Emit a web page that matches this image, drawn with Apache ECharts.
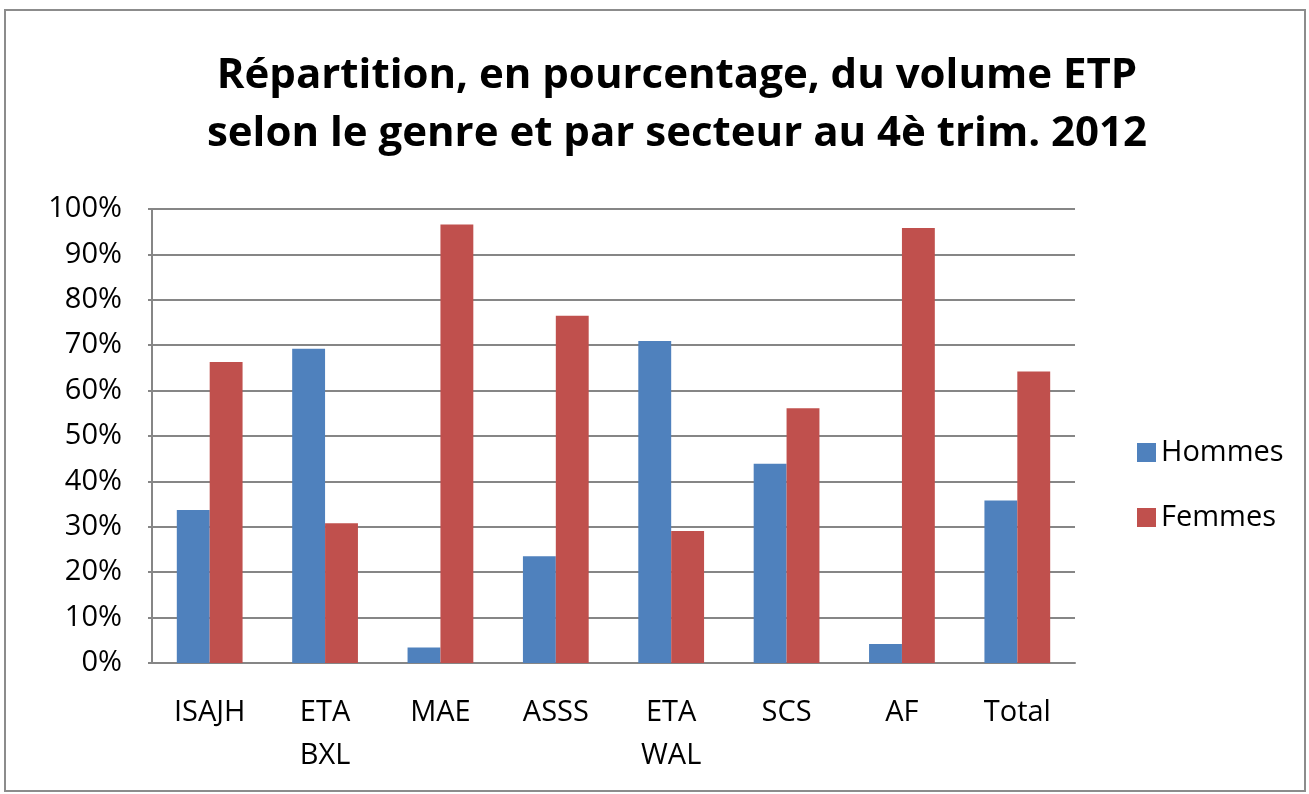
<!DOCTYPE html>
<html lang="fr">
<head>
<meta charset="UTF-8">
<title>Répartition ETP</title>
<style>
    html, body { margin: 0; padding: 0; background: #ffffff; }
    #main { width: 1309px; height: 794px; }
</style>
</head>
<body>
<div id="main"></div>
<script src="https://cdn.jsdelivr.net/npm/echarts@6/dist/echarts.min.js"></script>
<script>
    // secteurs
    var categories = ['ISAJH', 'ETA\nBXL', 'MAE', 'ASSS', 'ETA\nWAL', 'SCS', 'AF', 'Total'];
    // pourcentages
    var hommes = [33.7, 69.2, 3.4, 23.5, 70.9, 43.9, 4.2, 35.8];
    var femmes = [66.3, 30.8, 96.6, 76.5, 29.1, 56.1, 95.8, 64.2];
    var yTicks = [0, 10, 20, 30, 40, 50, 60, 70, 80, 90, 100];

    var font = '"Open Sans", "Liberation Sans", sans-serif';
    var myChart = echarts.init(document.getElementById('main'));
    var option = {
        backgroundColor: '#ffffff',
        title: {
            text: 'Répartition, en pourcentage, du volume ETP\nselon le genre et par secteur au 4è trim. 2012',
            left: 672,
            textAlign: 'center',
            top: 42,
            textStyle: {
                fontFamily: font,
                fontSize: 42,
                fontWeight: 'bold',
                color: '#000000',
                lineHeight: 58
            }
        },
        graphic: [{
            type: 'rect',
            shape: { x: 5, y: 10, width: 1300, height: 781 },
            style: { fill: 'none', stroke: '#8c8c8c', lineWidth: 2 },
            silent: true,
            z: -1
        }],
        legend: {
            orient: 'vertical',
            left: 1132,
            top: 433,
            itemWidth: 19,
            itemHeight: 19,
            itemGap: 36,
            icon: 'rect',
            textStyle: { fontFamily: font, fontSize: 29, color: '#000000' },
            data: ['Hommes', 'Femmes']
        },
        grid: { left: 152, right: 234, top: 209, bottom: 131 },
        xAxis: {
            type: 'category',
            data: categories,
            axisLine: { lineStyle: { color: '#868686', width: 2 } },
            axisTick: { show: false },
            axisLabel: {
                fontFamily: font, fontSize: 29, color: '#000000',
                margin: 28, lineHeight: 43
            }
        },
        yAxis: {
            type: 'value',
            min: yTicks[0],
            max: yTicks[yTicks.length - 1],
            interval: 10,
            axisLine: { show: true, lineStyle: { color: '#868686', width: 2 } },
            axisTick: { show: true, length: 4, lineStyle: { color: '#868686', width: 2 } },
            splitLine: { lineStyle: { color: '#868686', width: 2 } },
            axisLabel: {
                fontFamily: font, fontSize: 29, color: '#000000', margin: 30,
                formatter: '{value}%'
            }
        },
        series: [{
            name: 'Hommes',
            type: 'bar',
            data: hommes,
            barGap: '0%',
            barCategoryGap: '43%',
            itemStyle: { color: '#4F81BD' }
        }, {
            name: 'Femmes',
            type: 'bar',
            data: femmes,
            itemStyle: { color: '#C0504D' }
        }]
    };
    myChart.setOption(option);
</script>
</body>
</html>
